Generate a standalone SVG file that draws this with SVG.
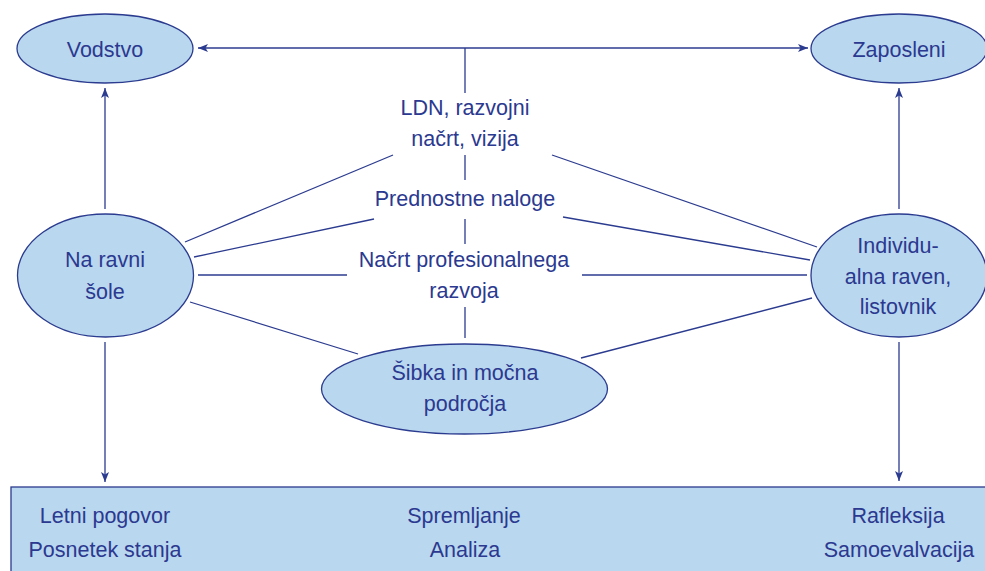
<svg xmlns="http://www.w3.org/2000/svg" width="985" height="571" viewBox="0 0 985 571">
<style>
.n{fill:#b9d7ee;stroke:#2b3b8f;stroke-width:1.3}
.t{font-family:"Liberation Sans",Arial,sans-serif;font-size:21.5px;fill:#2b3990;text-anchor:middle}
.c line{stroke:#2b3b8f;stroke-width:1.3}
</style>
<defs>
<marker id="a" viewBox="0 0 10 8" refX="10" refY="4" markerWidth="10" markerHeight="8" markerUnits="userSpaceOnUse" orient="auto">
<path d="M0,0 L10,4 L0,8 L2.5,4 z" fill="#2b3b8f"/>
</marker>
</defs>
<rect x="0" y="0" width="985" height="571" fill="#fff"/>
<g id="bottom">
<rect class="n" x="11" y="487" width="990" height="100"/>
<text class="t" x="105" y="523">Letni pogovor</text>
<text class="t" x="105" y="557">Posnetek stanja</text>
<text class="t" x="464" y="523">Spremljanje</text>
<text class="t" x="465" y="557">Analiza</text>
<text class="t" x="898" y="523">Rafleksija</text>
<text class="t" x="899" y="557">Samoevalvacija</text>
</g>
<g class="c" id="connectors">
<line x1="465" y1="48" x2="198" y2="48" marker-end="url(#a)"/>
<line x1="465" y1="48" x2="808" y2="48" marker-end="url(#a)"/>
<line x1="465" y1="48" x2="465" y2="93"/>
<line x1="105" y1="209" x2="105" y2="88" marker-end="url(#a)"/>
<line x1="899" y1="209" x2="899" y2="88" marker-end="url(#a)"/>
<line x1="105" y1="342" x2="105" y2="482" marker-end="url(#a)"/>
<line x1="899" y1="342" x2="899" y2="481" marker-end="url(#a)"/>
<line x1="393" y1="155" x2="185" y2="242"/>
<line x1="552" y1="155" x2="817" y2="247"/>
<line x1="465" y1="155" x2="465" y2="180"/>
<line x1="374" y1="219" x2="194" y2="257"/>
<line x1="563" y1="217" x2="810" y2="260"/>
<line x1="465" y1="219" x2="465" y2="244"/>
<line x1="198" y1="275" x2="347" y2="275"/>
<line x1="582" y1="275" x2="807" y2="275"/>
<line x1="465" y1="307" x2="465" y2="338"/>
<line x1="190" y1="302" x2="358" y2="354"/>
<line x1="581" y1="358" x2="812" y2="298"/>
</g>
<g id="labels">
<text class="t" x="465" y="115">LDN, razvojni</text>
<text class="t" x="465" y="146">načrt, vizija</text>
<text class="t" x="465" y="206">Prednostne naloge</text>
<text class="t" x="464" y="267">Načrt profesionalnega</text>
<text class="t" x="464" y="298">razvoja</text>
</g>
<g id="vodstvo">
<ellipse class="n" cx="105" cy="48.5" rx="88" ry="34.5"/>
<text class="t" x="105" y="57">Vodstvo</text>
</g>
<g id="zaposleni">
<ellipse class="n" cx="899" cy="48.5" rx="88" ry="34.5"/>
<text class="t" x="899" y="57">Zaposleni</text>
</g>
<g id="sola">
<ellipse class="n" cx="105.5" cy="275.5" rx="88" ry="61.5"/>
<text class="t" x="105" y="267">Na ravni</text>
<text class="t" x="105" y="299">šole</text>
</g>
<g id="individ">
<ellipse class="n" cx="899" cy="275.5" rx="88" ry="61.5"/>
<text class="t" x="898" y="253">Individu-</text>
<text class="t" x="898" y="284">alna raven,</text>
<text class="t" x="898" y="314">listovnik</text>
</g>
<g id="sibka">
<ellipse class="n" cx="464.5" cy="389" rx="143" ry="45"/>
<text class="t" x="465" y="380">Šibka in močna</text>
<text class="t" x="465" y="411">področja</text>
</g>
</svg>
